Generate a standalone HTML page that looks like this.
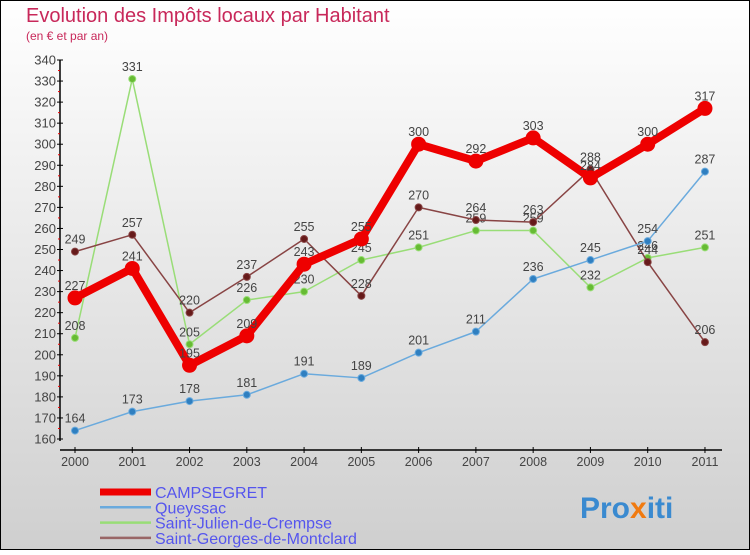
<!DOCTYPE html>
<html><head><meta charset="utf-8"><style>
html,body{margin:0;padding:0}
body{width:750px;height:550px;overflow:hidden;font-family:"Liberation Sans",sans-serif}
</style></head><body>
<svg id="chart" width="750" height="550" xmlns="http://www.w3.org/2000/svg">
<defs><linearGradient id="bg" x1="0" y1="0" x2="0" y2="1"><stop offset="0" stop-color="#ffffff"/><stop offset="1" stop-color="#cfcfcf"/></linearGradient></defs>
<rect x="0.5" y="0.5" width="749" height="549" fill="url(#bg)" stroke="#000"/>
<text x="26" y="22" font-size="20" fill="#c8285a">Evolution des Impôts locaux par Habitant</text>
<text x="26" y="40" font-size="12" fill="#c8285a">(en € et par an)</text>
<g id="axes"></g><g id="series"></g><g id="legend"></g>
<text x="580" y="518" font-size="30" font-weight="bold" fill="#3a8ad0">Pro<tspan fill="#f07a10">x</tspan>iti</text>
</svg>
<script>
const years=["2000","2001","2002","2003","2004","2005","2006","2007","2008","2009","2010","2011"];
const yTicks=[160,170,180,190,200,210,220,230,240,250,260,270,280,290,300,310,320,330,340];
const campsegret=[227,241,195,209,243,255,300,292,303,284,300,317];
const queyssac=[164,173,178,181,191,189,201,211,236,245,254,287];
const saintJulien=[208,331,205,226,230,245,251,259,259,232,246,251];
const saintGeorges=[249,257,220,237,255,228,270,264,263,288,244,206];
const NS="http://www.w3.org/2000/svg";
function xs(i){return 75+i*57.27;}
function ys(v){return 439-(v-160)*379/180;}
function mk(t,a,p){const e=document.createElementNS(NS,t);for(const k in a)e.setAttribute(k,a[k]);p.appendChild(e);return e;}
const ax=document.getElementById('axes');
let l=mk('line',{x1:60,y1:60,x2:60,y2:441,stroke:'#000','stroke-width':1.5},ax);


l=mk('line',{x1:60,y1:450,x2:722,y2:450,stroke:'#000','stroke-width':1.5},ax);


yTicks.forEach((v,i)=>{
 const y=ys(v);
 mk('line',{x1:57,y1:y,x2:63,y2:y,stroke:'#000'},ax);
 if(i<yTicks.length-1)mk('line',{x1:58,y1:y-379/36,x2:60,y2:y-379/36,stroke:'#e00'},ax);
 const t=mk('text',{x:56,y:y+4.5,'font-size':13,fill:'#444','text-anchor':'end'},ax);
 t.textContent=v;
 
 
});
years.forEach((yr,i)=>{
 const x=xs(i);
 mk('line',{x1:x,y1:447,x2:x,y2:453,stroke:'#000'},ax);
 const t=mk('text',{x:x,y:466,'font-size':12.5,fill:'#444','text-anchor':'middle'},ax);
 t.textContent=yr;
 
 
});
const series=[
 {name:'Saint-Julien-de-Crempse',data:saintJulien,c:'#99dd77',d:'#66bb33',w:1.5,r:3.5},
 {name:'Saint-Georges-de-Montclard',data:saintGeorges,c:'#884444',d:'#661a1a',w:1.5,r:3.5},
 {name:'Queyssac',data:queyssac,c:'#6aaadd',d:'#2f7fc0',w:1.5,r:3.5},
 {name:'CAMPSEGRET',data:campsegret,c:'#ee0000',d:'#ee0000',w:8,r:7}
];
const sg=document.getElementById('series');
series.forEach(s=>{
 const g=mk('g',{},sg);
 
 
 const pl=mk('polyline',{points:s.data.map((v,i)=>xs(i)+','+ys(v)).join(' '),fill:'none',stroke:s.c,'stroke-width':s.w,'stroke-linejoin':'round'},g);
 
 
 s.data.forEach((v,i)=>{
  const c=mk('circle',{cx:xs(i),cy:ys(v),r:s.r,fill:s.d,stroke:s.c,'stroke-width':1},g);
  
  
  const t=mk('text',{x:xs(i),y:ys(v)-8,'font-size':12.5,fill:'#444','text-anchor':'middle'},g);
  t.textContent=v;
  
  
 });
});
const lg=document.getElementById('legend');
[{n:'CAMPSEGRET',c:'#ee0000',w:7},{n:'Queyssac',c:'#6aaadd',w:2.5},{n:'Saint-Julien-de-Crempse',c:'#99dd77',w:2.5},{n:'Saint-Georges-de-Montclard',c:'#996666',w:2.5}].forEach((e,i)=>{
 const y=492+i*15.3;
 const g=mk('g',{},lg);
 
 
 mk('line',{x1:100,y1:y,x2:151,y2:y,stroke:e.c,'stroke-width':e.w},g);
 const t=mk('text',{x:155,y:y+6,'font-size':16,fill:'#5555ee'},g);
 t.textContent=e.n;
});
</script>
</body></html>
